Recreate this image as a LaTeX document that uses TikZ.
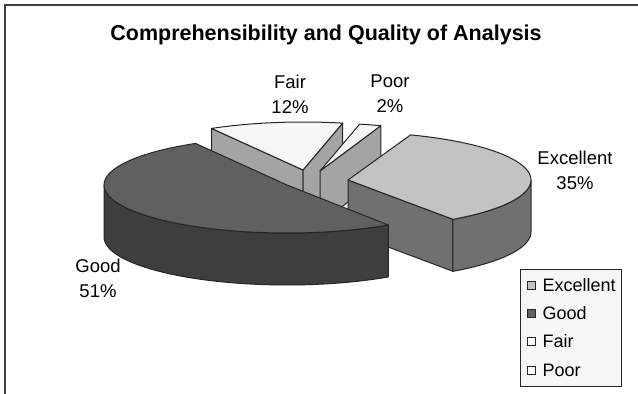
\documentclass[tikz,border=0pt]{standalone}
\usepackage{fontspec}
\setmainfont{Liberation Sans}
\usetikzlibrary{positioning}
\definecolor{goodtop}{HTML}{606060}
\definecolor{goodside}{HTML}{3E3E3E}
\definecolor{exctop}{HTML}{C3C3C3}
\definecolor{excside}{HTML}{707070}
\definecolor{fairtop}{HTML}{F6F6F6}
\definecolor{fairside}{HTML}{A4A4A4}
\begin{document}
\begin{tikzpicture}[x=1pt, y=-1pt,
		edge/.style={draw=black!85, line width=1pt, line join=round},
		pctlabel/.style={align=center, font=\fontsize{18.5}{25}\selectfont},
		legsq/.style={draw=black!85, line width=0.7pt, minimum size=8pt, inner sep=0pt},
		legtext/.style={font=\fontsize{18}{22}\selectfont, inner sep=0pt}]
		\useasboundingbox (0,0) rectangle (638,394);
		% frame
		\draw[black!75, line width=1.5pt] (5,400) |- (645,5);
		% title
		\node[font=\bfseries\fontsize{21.5}{26}\selectfont, anchor=base] (title) at (326,40) {Comprehensibility and Quality of Analysis};
		% fair
		\begin{scope}[shift={(303,170)}]
			\draw[edge, fill=fairside] (0,0) -- ({183*cos(120)},{-48*sin(120)}) -- ++(0,52) -- (0,52) -- cycle;
			\draw[edge, fill=fairside] (0,0) -- ({183*cos(77.5)},{-48*sin(77.5)}) -- ++(0,52) -- (0,52) -- cycle;
			\draw[edge, fill=fairtop] (0,0) -- plot[domain=77.5:120, samples=20] ({183*cos(\x)},{-48*sin(\x)}) -- cycle;
		\end{scope}
		% poor
		\begin{scope}[shift={(320,171)}]
			\draw[edge, fill=fairside] (0,0) -- ({183*cos(70.6)},{-48*sin(70.6)}) -- ++(0,52) -- (0,52) -- cycle;
			\draw[edge, fill=fairtop] (0,0) -- plot[domain=70.6:77.5, samples=5] ({183*cos(\x)},{-48*sin(\x)}) -- cycle;
		\end{scope}
		% excellent
		\begin{scope}[shift={(348,180)}]
			\draw[edge, fill=excside] (0,0) -- ({183*cos(-55)},{-48*sin(-55)}) -- ++(0,52) -- (0,52) -- cycle;
			\draw[edge, fill=excside] plot[domain=-55:0, samples=20] ({183*cos(\x)},{-48*sin(\x)}) -- ++(0,52) -- plot[domain=0:-55, samples=20] ({183*cos(\x)},{52-48*sin(\x)}) -- cycle;
			\draw[edge, fill=exctop] (0,0) -- plot[domain=-55:70, samples=50] ({183*cos(\x)},{-48*sin(\x)}) -- cycle;
		\end{scope}
		% good
		\begin{scope}[shift={(287,185)}]
			\draw[edge, fill=goodside] plot[domain=180:303.6, samples=40] ({183*cos(\x)},{-48*sin(\x)}) -- ++(0,52) -- plot[domain=303.6:180, samples=40] ({183*cos(\x)},{52-48*sin(\x)}) -- cycle;
			\draw[edge, fill=goodtop] (0,0) -- plot[domain=120:303.6, samples=60] ({183*cos(\x)},{-48*sin(\x)}) -- cycle;
		\end{scope}
		% labels
		\node[pctlabel] (fairlbl) at (290,94) {Fair\\12\%};
		\node[pctlabel] (poorlbl) at (390,94) {Poor\\2\%};
		\node[pctlabel] (exclbl) at (575,170) {Excellent\\35\%};
		\node[pctlabel] (goodlbl) at (98,278) {Good\\51\%};
		% legend
		\node[draw=black!85, line width=0.8pt, fill=white!97!black, minimum width=101pt, minimum height=117pt, inner sep=0pt, anchor=north west] (legend) at (520,269) {};
		\node[legsq, fill=exctop] (sqexc) at (531,285) {};
		\node[legtext, right=7pt of sqexc] (txtexc) {Excellent};
		\node[legsq, fill=goodtop] (sqgood) at (531,313) {};
		\node[legtext, right=7pt of sqgood] (txtgood) {Good};
		\node[legsq, fill=white] (sqfair) at (531,341.5) {};
		\node[legtext, right=7pt of sqfair] (txtfair) {Fair};
		\node[legsq, fill=white] (sqpoor) at (531,370) {};
		\node[legtext, right=7pt of sqpoor] (txtpoor) {Poor};
\end{tikzpicture}
\end{document}
